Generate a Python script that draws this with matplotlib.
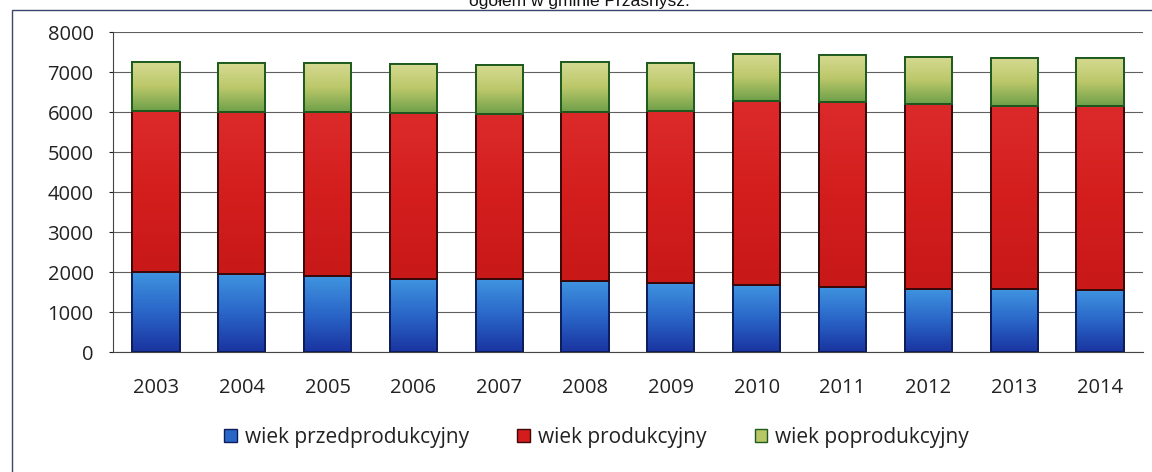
import numpy as np
import matplotlib
matplotlib.use("Agg")
import matplotlib.pyplot as plt
from matplotlib.patches import Rectangle
from matplotlib.colors import LinearSegmentedColormap

plt.rcParams['font.family'] = ['Open Sans', 'DejaVu Sans']

years = ["2003", "2004", "2005", "2006", "2007", "2008",
         "2009", "2010", "2011", "2012", "2013", "2014"]
przed = [2000, 1958, 1892, 1825, 1820, 1783, 1725, 1675, 1625, 1575, 1567, 1560]
prod = [4017, 4052, 4100, 4142, 4138, 4217, 4295, 4600, 4633, 4617, 4591, 4582]
post = [1225, 1215, 1233, 1225, 1209, 1255, 1205, 1183, 1175, 1183, 1200, 1216]
labels = ["wiek przedprodukcyjny", "wiek produkcyjny", "wiek poprodukcyjny"]

fig = plt.figure(figsize=(11.52, 4.72), dpi=100)
ax = fig.add_axes([0.0981, 0.2542, 0.894, 0.678])

x = np.arange(len(years))
w = 0.55
przed = np.array(przed)
prod = np.array(prod)
post = np.array(post)

b1 = ax.bar(x, przed, w, color='#2a66c8', edgecolor='#0d1d5a', lw=1.2, label=labels[0], zorder=3)
b2 = ax.bar(x, prod, w, bottom=przed, color='#d41c1c', edgecolor='#3a0808', lw=1.2, label=labels[1], zorder=3)
b3 = ax.bar(x, post, w, bottom=przed + prod, color='#b8c668', edgecolor='#1e5a1e', lw=1.2, label=labels[2], zorder=3)

# gradients inside bars (top -> bottom)
grads = [(b1, ['#3f94e0', '#2a66c8', '#1a34a0']),
         (b2, ['#dc2a2a', '#d41e1e', '#c81818']),
         (b3, ['#d6da92', '#bcc86a', '#6fa04a'])]
for bars, cols in grads:
    cmap = LinearSegmentedColormap.from_list('g', cols)
    for p in bars:
        x0, y0 = p.get_x(), p.get_y()
        im = ax.imshow(np.linspace(0, 1, 64).reshape(-1, 1), cmap=cmap, aspect='auto',
                       extent=[x0, x0 + p.get_width(), y0, y0 + p.get_height()],
                       origin='upper', zorder=3.5)
        im.set_clip_path(p)
        edge = Rectangle((x0, y0), p.get_width(), p.get_height(), fill=False,
                         edgecolor=p.get_edgecolor(), lw=1.4, zorder=4)
        ax.add_patch(edge)

ax.set_xlim(-0.5, len(years) - 0.5)
ax.set_ylim(0, 8000)
ax.set_yticks(np.arange(0, 8001, 1000))
ax.set_xticks(x)
ax.set_xticklabels(years)
ax.tick_params(axis='x', length=0, pad=19, labelsize=14.5, colors='#222222')
ax.tick_params(axis='y', length=3, width=0.8, pad=11, labelsize=14.5, colors='#222222')
ax.yaxis.grid(True, color='#606060', lw=0.8, zorder=0)
for s in ['top', 'right']:
    ax.spines[s].set_visible(False)
ax.spines['left'].set_color('#444444')
ax.spines['bottom'].set_color('#444444')

handles = [Rectangle((0, 0), 1, 1, facecolor=c, edgecolor=e, lw=1)
           for c, e in [('#2a66c8', '#0d1d5a'), ('#d41c1c', '#3a0808'), ('#b8c668', '#1e5a1e')]]
fig.legend(handles, labels, loc='center', bbox_to_anchor=(0.518, 0.074), ncol=3,
           frameon=False, fontsize=15, handlelength=0.6, handleheight=0.6,
           handletextpad=0.4, columnspacing=2.3, labelcolor='#222222')

# outer frame (partly cut off)
fig.add_artist(Rectangle((12 / 1152, -0.1), 1.2, 1.1 - 10 / 472, fill=False,
                         edgecolor='#3a4670', lw=1.0, transform=fig.transFigure))
fig.text(0.503, 1 - 6 / 472, 'ogółem w gminie Przasnysz.', ha='center', va='baseline',
         fontsize=12.5, family=['Liberation Sans', 'DejaVu Sans'], color='#111111')

fig.savefig("out.png", dpi=100)
